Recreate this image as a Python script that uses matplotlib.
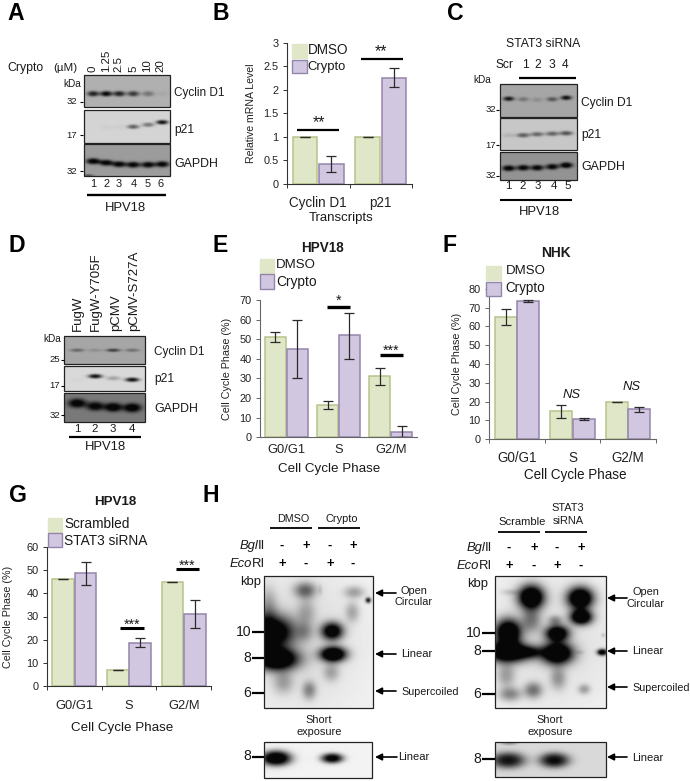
import numpy as np
import matplotlib
matplotlib.use('Agg')
import matplotlib.pyplot as plt
from matplotlib.patches import Rectangle

plt.rcParams['font.family'] = ['Liberation Sans', 'DejaVu Sans']

W, H = 690, 781
GREEN, GREEN_E = '#dfe7c8', '#b7c48a'
PURPLE, PURPLE_E = '#d2c7e0', '#9485ab'

# bar data
transcripts = ['Cyclin D1', 'p21']
phases = ['G0/G1', 'S', 'G2/M']

b_dmso = [1.0, 1.0]
b_dmso_lo = [1.0, 1.0]
b_dmso_hi = [1.0, 1.0]
b_crypto = [0.41, 2.25]
b_crypto_lo = [0.24, 2.05]
b_crypto_hi = [0.6, 2.46]

e_dmso = [51, 16.5, 31]
e_dmso_lo = [48.5, 14.3, 26.5]
e_dmso_hi = [53.5, 18.7, 35.5]
e_crypto = [45, 52, 2.5]
e_crypto_lo = [30, 40, 0]
e_crypto_hi = [60, 63.5, 5.7]

f_dmso = [65, 14.7, 20]
f_dmso_lo = [61, 11, 20]
f_dmso_hi = [69.5, 18.2, 20]
f_crypto = [73.5, 10.5, 15.8]
f_crypto_lo = [72.8, 10, 14.4]
f_crypto_hi = [74.2, 11.2, 17.3]

g_scr = [46, 7, 45]
g_scr_lo = [46, 7, 45]
g_scr_hi = [46, 7, 45]
g_si = [48.7, 18.7, 31]
g_si_lo = [43.5, 16.7, 25]
g_si_hi = [53.5, 20.7, 37]

# blot band strengths per lane
a_cyclin = [0.85, 1.0, 0.85, 0.7, 0.35, 0.05]
a_p21 = [0, 0.03, 0.03, 0.55, 0.45, 0.95]
a_gapdh = [1.1, 1.05, 1.05, 1.05, 1.05, 1.05]
c_cyclin = [0.9, 0.3, 0.15, 0.5, 0.95]
c_p21 = [0.1, 0.55, 0.5, 0.52, 0.6]
c_gapdh = [1.1, 1.05, 1.05, 1.05, 1.15]
d_cyclin = [0.4, 0.15, 0.65, 0.35]
d_p21 = [0.02, 0.95, 0.25, 0.95]
d_gapdh = [1.2, 1.1, 1.25, 1.25]

fig = plt.figure(figsize=(W / 100, H / 100), dpi=100)
ov = fig.add_axes([0, 0, 1, 1], zorder=5)
ov.patch.set_alpha(0)
ov.axis('off')


def px(p):
    return p * 0.72


def txt(x, y, s, size=10.5, ha='left', va='center', **kw):
    ov.text(x, y, s, fontsize=px(size), ha=ha, va=va, color=kw.pop('color', '#1a1a1a'), **kw)


def line(x0, x1, y, lw=1.6, color='black'):
    ov.plot([x0, x1], [y, y], color=color, lw=lw, solid_capstyle='butt')


def blot(x0, y0, x1, y1, bg, spots, frame='#222222', power=1.3):
    xs = np.arange(x0, x1, 0.5)
    ys = np.arange(y0, y1, 0.5)
    xx, yy = np.meshgrid(xs, ys)
    dark = np.zeros_like(xx)
    for sx0, sy0, sx, sy, amp in spots:
        r = ((xx - sx0) / sx) ** 2 + ((yy - sy0) / sy) ** 2
        dark += amp * np.exp(-r ** power)
    img = bg * (1 - np.clip(dark, 0, 1)) + 0.03
    ov.imshow(img, extent=[x0, x1, y1, y0], cmap='gray', vmin=0, vmax=1, aspect='auto',
              interpolation='bilinear', zorder=1)
    ov.add_patch(Rectangle((x0, y0), x1 - x0, y1 - y0, fill=False, ec=frame, lw=0.9, zorder=2))


def lane_spots(lanes, ys, amps, sx=6, sy=2.7):
    return [(x, y, sx, sy, a) for x, y, a in zip(lanes, ys, amps)]


def bars(box, ymax, yticks, v1, lo1, hi1, v2, lo2, hi2, cats, ticks=True, width=0.39, off=0.205,
         tick_size=11.5, ytick_size=10.5, spine='#333333', pad=5):
    x0, y_top, x1, y_bot = box
    ax = fig.add_axes([x0 / W, 1 - y_bot / H, (x1 - x0) / W, (y_bot - y_top) / H])
    pos = np.arange(len(cats)) + 0.5
    for p, v, lo, hi, c, e in [(pos - off, v1, lo1, hi1, GREEN, GREEN_E),
                               (pos + off, v2, lo2, hi2, PURPLE, PURPLE_E)]:
        v, lo, hi = np.array(v), np.array(lo), np.array(hi)
        ax.bar(p, v, width, color=c, edgecolor=e, linewidth=1.1)
        ax.errorbar(p, v, yerr=[v - lo, hi - v], fmt='none', ecolor='#2a2a2a', elinewidth=0.9,
                    capsize=3.5, capthick=0.9)
    ax.set_xlim(0, len(cats))
    ax.set_ylim(0, ymax)
    ax.set_yticks(yticks)
    ax.set_yticklabels([f'{t:g}' for t in yticks], fontsize=px(ytick_size), color='#222222')
    ax.set_xticks(np.arange(len(cats) + 1) if ticks else [])
    ax.set_xticklabels([])
    ax.set_xticks(pos, minor=True)
    ax.set_xticklabels(cats, minor=True, fontsize=px(tick_size), color='#222222')
    ax.tick_params(axis='x', which='minor', length=0, pad=pad)
    ax.tick_params(axis='x', which='major', length=3, width=0.7, color=spine)
    ax.tick_params(axis='y', length=3, width=0.7, color=spine, pad=3)
    for s in ['top', 'right']:
        ax.spines[s].set_visible(False)
    for s in ['left', 'bottom']:
        ax.spines[s].set_color(spine)
        ax.spines[s].set_linewidth(0.8)
    ax.patch.set_alpha(0)
    return ax


def swatch(x, y, w, h, c, e):
    ov.add_patch(Rectangle((x, y), w, h, fc=c, ec=e, lw=1.0))


def arrow(tail, tip, y):
    ov.annotate('', xy=(tip, y), xytext=(tail, y),
                arrowprops=dict(arrowstyle='-|>', color='black', lw=1.2, mutation_scale=10,
                                shrinkA=0, shrinkB=0))


# panel letters
for s, x, y in [('A', 7, 13), ('B', 212, 13), ('C', 447, 13), ('D', 8, 245), ('E', 212, 245),
                ('F', 443, 245), ('G', 9, 495), ('H', 202, 495)]:
    ov.text(x, y, s, fontsize=px(23), fontweight='bold', ha='left', va='center', color='black')

# A
a_lanes = [93, 106, 119, 133, 148, 162]
blot(84, 75, 170, 107, 0.66, lane_spots(a_lanes, [93.5] * 6, a_cyclin))
blot(84, 110, 170, 143, 0.8, lane_spots(a_lanes, [127, 127, 127, 126.5, 124.5, 122], a_p21, sy=2.2))
blot(84, 144, 170, 176, 0.58, lane_spots(a_lanes, [161, 162.5, 164, 164.5, 164.5, 164], a_gapdh, sx=7, sy=3)
     + [(88, 175, 5, 1, 0.5)])
txt(7, 68, 'Crypto', 12.3)
txt(53, 68, '(µM)', 11.5)
for x, s in zip([93, 106, 118, 133, 147, 160], ['0', '1.25', '2.5', '5', '10', '20']):
    txt(x, 72, s, 11.5, ha='center', va='bottom', rotation=90)
txt(72, 84, 'kDa', 10, ha='center')
for y, s in [(102, '32'), (135, '17'), (171, '32')]:
    txt(77, y, s, 9.5, ha='right')
    line(80, 83, y, 0.8)
for y, s, z in [(93, 'Cyclin D1', 11.7), (130, 'p21', 12), (164, 'GAPDH', 12.4)]:
    txt(174, y, s, z)
for x, s in zip([93, 106, 119, 134, 148, 161], '123456'):
    txt(x, 184, s, 11, ha='center')
line(87, 166, 195, 1.7)
txt(126, 208, 'HPV18', 13, ha='center')

# B
ax_b = bars((287, 42.7, 412, 183.7), 3, [0, 0.5, 1, 1.5, 2, 2.5, 3], b_dmso, b_dmso_lo, b_dmso_hi,
            b_crypto, b_crypto_lo, b_crypto_hi, transcripts, width=0.395, off=0.21, tick_size=13.5,
            ytick_size=11, pad=8.5)
ax_b.set_ylabel('Relative mRNA Level', fontsize=px(10.5), color='#222222', labelpad=5)
txt(341, 218, 'Transcripts', 13.3, ha='center')
swatch(292, 44, 15, 14, GREEN, GREEN)
swatch(292, 60, 15, 13, PURPLE, PURPLE_E)
txt(308, 50, 'DMSO', 13.5)
txt(307, 67, 'Crypto', 13)
line(297, 339, 130, 1.6)
line(361, 403, 59, 1.6)
txt(319, 123, '**', 16, ha='center')
txt(381, 52, '**', 16, ha='center')

# C
c_lanes = [508.5, 523, 537, 552, 566]
blot(500, 84, 577, 117, 0.62, lane_spots(c_lanes, [98.5, 99, 99.5, 99, 97.5], c_cyclin, sx=5.5, sy=2.3))
blot(500, 118, 577, 150, 0.75, lane_spots(c_lanes, [135, 135, 134, 133.5, 133], c_p21, sx=6.5, sy=2.3))
blot(500, 152, 577, 180, 0.55, lane_spots(c_lanes, [168, 167.5, 167.5, 166.5, 165], c_gapdh, sx=6.5, sy=2.9))
txt(543, 44, 'STAT3 siRNA', 12.2, ha='center')
for x, s in zip([505, 525, 538, 552, 565], ['Scr', '1', '2', '3', '4']):
    txt(x, 65, s, 12, ha='center')
line(519, 576, 78, 1.6)
txt(482, 80, 'kDa', 10, ha='center')
for y, s in [(110, '32'), (145, '17'), (176, '32')]:
    txt(496, y, s, 9.5, ha='right')
    line(496, 499, y, 0.8)
for y, s, z in [(103, 'Cyclin D1', 12), (135, 'p21', 12), (167, 'GAPDH', 12.4)]:
    txt(581, y, s, z)
for x, s in zip([508, 523, 538, 554, 568], '12345'):
    txt(x, 186, s, 11.5, ha='center')
line(500, 572, 200, 1.5)
txt(539, 212, 'HPV18', 13, ha='center')

# D
d_lanes = [77, 95, 113, 132]
blot(64, 336, 145, 364, 0.62, lane_spots(d_lanes, [350] * 4, d_cyclin, sx=7, sy=1.7))
blot(64, 366, 145, 391, 0.82, lane_spots(d_lanes, [380, 376, 378, 379.5], d_p21, sx=7, sy=2.2))
blot(64, 393, 145, 422, 0.45, lane_spots(d_lanes, [403, 406, 407, 407.5], d_gapdh, sx=9, sy=4.5))
for x, s in zip([78, 96, 116, 134], ['FugW', 'FugW-Y705F', 'pCMV', 'pCMV-S727A']):
    txt(x, 331, s, 13.3, ha='center', va='bottom', rotation=90)
txt(52, 339, 'kDa', 10, ha='center')
for y, s in [(360, '25'), (386, '17'), (415, '32')]:
    txt(60, y, s, 9.5, ha='right')
    line(61, 64, y, 0.8)
for y, s, z in [(352, 'Cyclin D1', 11.7), (379, 'p21', 12), (409, 'GAPDH', 12.4)]:
    txt(154, y, s, z)
for x, s in zip([77, 95, 113, 132], '1234'):
    txt(x, 429, s, 11.5, ha='center')
line(69, 141, 437, 1.6)
txt(105, 447, 'HPV18', 13, ha='center')

# E
ax_e = bars((260, 300, 417, 437.3), 70, list(range(0, 71, 10)), e_dmso, e_dmso_lo, e_dmso_hi, e_crypto,
            e_crypto_lo, e_crypto_hi, phases, ticks=False, width=0.4, off=0.21, tick_size=12.9, ytick_size=11,
            spine='#666666')
ax_e.set_ylabel('Cell Cycle Phase (%)', fontsize=px(10.7), color='#222222', labelpad=5)
txt(322, 248, 'HPV18', 13.5, ha='center', fontweight='bold')
swatch(260, 259, 14, 14, GREEN, GREEN)
swatch(260, 274, 14, 15, PURPLE, PURPLE_E)
txt(276, 265, 'DMSO', 13.3)
txt(276, 282, 'Crypto', 13.7)
txt(329, 469, 'Cell Cycle Phase', 13.4, ha='center')
line(327, 350, 307, 2.4)
line(380, 403, 355, 2.4)
txt(338, 301, '*', 14, ha='center')
txt(391, 351, '***', 14, ha='center')

# F
ax_f = bars((489, 289, 656, 439), 80, list(range(0, 81, 10)), f_dmso, f_dmso_lo, f_dmso_hi, f_crypto,
            f_crypto_lo, f_crypto_hi, phases, width=0.395, off=0.2, tick_size=13.5, ytick_size=11,
            spine='#666666', pad=8.5)
ax_f.set_ylabel('Cell Cycle Phase (%)', fontsize=px(10.7), color='#222222', labelpad=4.5)
txt(556, 253, 'NHK', 13.8, ha='center', fontweight='bold')
swatch(486, 266, 15, 14, GREEN, GREEN)
swatch(486, 282, 15, 14, PURPLE, PURPLE_E)
txt(506, 271, 'DMSO', 13.3)
txt(505, 288, 'Crypto', 13.5)
txt(575, 475, 'Cell Cycle Phase', 13.5, ha='center')
txt(572, 395, 'NS', 13, ha='center', fontstyle='italic')
txt(632, 387, 'NS', 13, ha='center', fontstyle='italic')

# G
ax_g = bars((47, 547, 211, 686), 60, list(range(0, 61, 10)), g_scr, g_scr_lo, g_scr_hi, g_si, g_si_lo,
            g_si_hi, phases, width=0.395, off=0.205, tick_size=12.9, ytick_size=11, pad=10)
ax_g.set_ylabel('Cell Cycle Phase (%)', fontsize=px(10.7), color='#222222', labelpad=9.5)
txt(115, 502, 'HPV18', 13.4, ha='center', fontweight='bold')
swatch(48, 518, 14, 14, GREEN, GREEN)
swatch(48, 533, 14, 14, PURPLE, PURPLE_E)
txt(64, 524, 'Scrambled', 13.6)
txt(64, 541, 'STAT3 siRNA', 13.7)
txt(122, 728, 'Cell Cycle Phase', 13.4, ha='center')
line(120, 144, 628, 2.2)
line(176, 199, 569, 2.2)
txt(132, 625, '***', 14, ha='center')
txt(187, 566, '***', 14, ha='center')

# H, left film: (x, y, sx, sy, strength)
h_left = [(300, 640, 60, 70, 0.1), (268, 632, 26, 17, 1.4), (276, 659, 22, 11, 1.5), (268, 606, 9, 18, 0.3),
          (283, 682, 10, 11, 0.3), (305, 590, 11, 8, 0.55), (306, 612, 9, 14, 0.25), (305, 632, 8, 9, 0.22),
          (309, 690, 7, 9, 0.42), (332, 631, 11, 9, 1.2), (333, 654, 13, 7.5, 1.5), (331, 672, 8, 9, 0.28),
          (354, 592, 10, 6, 0.32), (352, 612, 7, 10, 0.28), (368, 600, 2.8, 2.8, 0.9), (320, 590, 2, 5, 0.1)]
blot(264, 576, 373, 708, 0.92, h_left, power=1.1)
h_left_short = [(276, 758, 15, 7.5, 1.3), (332, 758, 11, 5, 1.1)]
blot(264, 742, 372, 778, 0.92, h_left_short)
txt(293, 519, 'DMSO', 10.8, ha='center')
txt(342, 519, 'Crypto', 11, ha='center')
line(270, 312, 528, 1.3)
line(318, 360, 528, 1.3)

# H, right film
h_right = [(550, 640, 70, 70, 0.08), (508, 632, 13, 13, 1.45), (508, 652, 22, 10, 1.5), (506, 675, 9, 12, 0.32),
           (510, 694, 11, 7, 0.42), (531, 597, 13, 12, 1.5), (531, 620, 10, 12, 0.45), (531, 652, 12, 6, 0.5),
           (533, 690, 9, 8, 0.5), (557, 633, 12, 8, 1.3), (557, 653, 16, 11, 1.5), (558, 678, 8, 11, 0.35),
           (555, 620, 7, 5, 0.35), (580, 598, 13, 11, 1.5), (581, 617, 11, 7.5, 1.4), (584, 689, 6, 5, 0.32),
           (580, 652, 4, 2, 0.1), (602, 652, 5, 3.2, 1.2), (603, 635, 2, 2, 0.15), (510, 592, 9, 3, 0.15)]
blot(495, 576, 606, 708, 0.92, h_right, power=1.1)
h_right_short = [(508, 760, 17, 8, 0.95), (554, 760, 15, 7.5, 1.0), (509, 743, 8, 2, 0.3)]
blot(495, 742, 606, 777, 0.82, h_right_short)
txt(522, 522, 'Scramble', 11.2, ha='center')
txt(568, 508, 'STAT3', 11, ha='center')
txt(568, 521, 'siRNA', 11, ha='center')
line(498, 540, 532, 1.3)
line(545, 587, 532, 1.3)

for right, lanes, y1, y2, kx, ky, t, l10, l8, l6 in [
        (265, [282, 306, 330, 353], 546, 564, 251, 582, (252, 264), 632, 658, 693),
        (492, [509, 534, 557, 581], 548, 566, 478, 584, (482, 495), 633, 651, 694)]:
    txt(right - 7, y1, 'Bgl', 13, ha='right', fontstyle='italic')
    txt(right, y1, 'II', 13, ha='right')
    txt(right - 13, y2, 'Eco', 13, ha='right', fontstyle='italic')
    txt(right, y2, 'RI', 13, ha='right')
    for i, x in enumerate(lanes):
        txt(x, y1, '+' if i % 2 else '-', 13, ha='center', fontweight='bold', color='black')
        txt(x, y2, '-' if i % 2 else '+', 13, ha='center', fontweight='bold', color='black')
    txt(kx, ky, 'kbp', 13, ha='center')
    for y, s in [(l10, '10'), (l8, '8'), (l6, '6')]:
        txt(t[0] - 1, y, s, 14, ha='right')
        line(t[0], t[1], y, 1.6)

line(252, 264, 757, 1.6)
txt(251, 756, '8', 14, ha='right')
line(482, 495, 759, 1.6)
txt(481, 759, '8', 14, ha='right')

# arrows and film labels
arrow(396, 375, 593)
arrow(396, 375, 654)
arrow(396, 375, 691)
arrow(397, 375, 757)
txt(414, 591, 'Open', 11, ha='center')
txt(414, 602, 'Circular', 11, ha='center')
txt(401, 654, 'Linear', 11.2)
txt(401, 692, 'Supercoiled', 10.8)
txt(398, 757, 'Linear', 11.2)
txt(319, 720, 'Short', 11, ha='center')
txt(319, 732, 'exposure', 11, ha='center')

arrow(627, 607, 598)
arrow(627, 607, 651)
arrow(627, 607, 687)
arrow(627, 607, 757)
txt(646, 592, 'Open', 11, ha='center')
txt(646, 604, 'Circular', 11, ha='center')
txt(632, 651, 'Linear', 11.2)
txt(632, 688, 'Supercoiled', 10.8)
txt(632, 758, 'Linear', 11.2)
txt(550, 720, 'Short', 11, ha='center')
txt(550, 732, 'exposure', 11, ha='center')

ov.set_xlim(0, W)
ov.set_ylim(H, 0)
fig.savefig('out.png', dpi=100)
